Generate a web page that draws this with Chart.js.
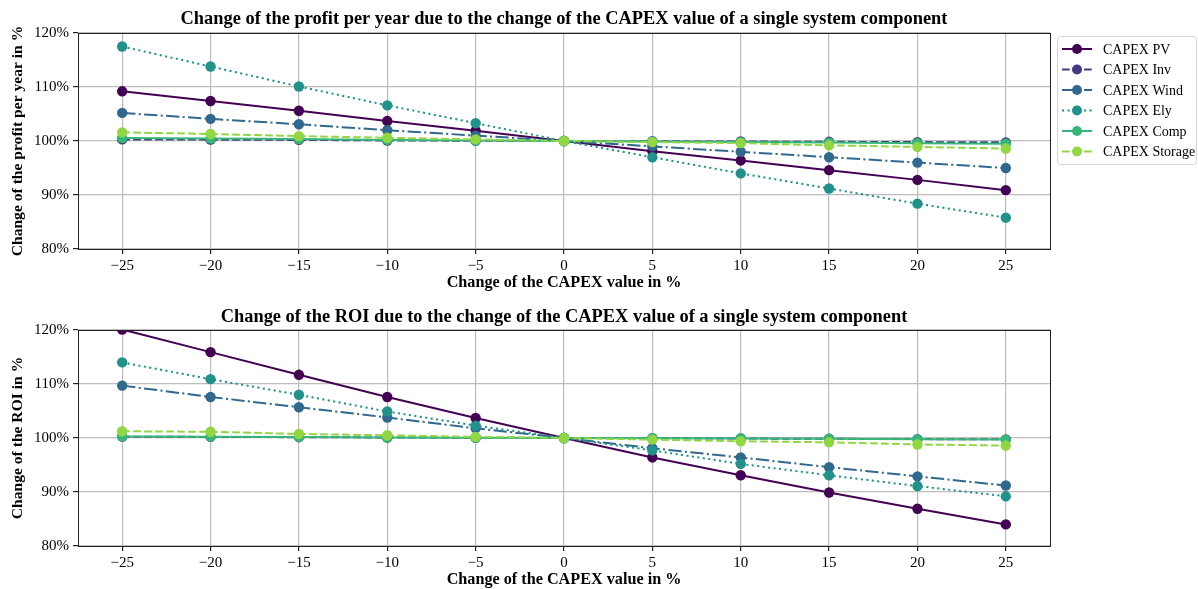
<!DOCTYPE html>
<html>
<head>
<meta charset="utf-8">
<title>CAPEX sensitivity</title>
<script src="https://cdn.jsdelivr.net/npm/chart.js@4.4.1/dist/chart.umd.min.js"></script>
<style>
  html, body { margin: 0; padding: 0; background: #fff; overflow: hidden; }
  .panel { position: absolute; left: 0; width: 1198px; height: 298px; }
</style>
</head>
<body>
<div class="panel" style="top:0"><canvas id="profitChart"></canvas></div>
<div class="panel" style="top:297px"><canvas id="roiChart"></canvas></div>
<script>
// CAPEX change steps (%) and axis ticks
const capexChange = [-25, -20, -15, -10, -5, 0, 5, 10, 15, 20, 25];
const xTicks = [-25, -20, -15, -10, -5, 0, 5, 10, 15, 20, 25];
const yTicks = [80, 90, 100, 110, 120];

const seriesNames = ['CAPEX PV', 'CAPEX Inv', 'CAPEX Wind', 'CAPEX Ely', 'CAPEX Comp', 'CAPEX Storage'];
const seriesColors = ['#440154', '#443a83', '#31688e', '#21918c', '#35b779', '#90d743'];
const seriesDash = [[], [7.7, 3.3], [13.3, 3.3, 2.1, 3.3], [2.1, 3.4], [], [7.7, 3.3]];

// profit per year, % of baseline
const profitPV      = [109.2, 107.4, 105.6, 103.7, 101.9, 100, 98.1, 96.4, 94.6, 92.8, 90.9];
const profitInv     = [100.3, 100.25, 100.2, 100.1, 100.05, 100, 99.95, 99.9, 99.85, 99.8, 99.75];
const profitWind    = [105.2, 104.1, 103.1, 102.0, 101.0, 100, 99.0, 98.0, 97.0, 96.0, 95.0];
const profitEly     = [117.5, 113.8, 110.1, 106.6, 103.3, 100, 97.0, 94.0, 91.2, 88.4, 85.8];
const profitComp    = [100.55, 100.45, 100.35, 100.2, 100.1, 100, 99.9, 99.8, 99.7, 99.6, 99.5];
const profitStorage = [101.6, 101.3, 100.9, 100.6, 100.3, 100, 99.8, 99.6, 99.2, 98.9, 98.6];

// ROI, % of baseline
const roiPV      = [120.1, 115.9, 111.7, 107.6, 103.7, 100, 96.4, 93.1, 89.9, 86.9, 84.0];
const roiInv     = [100.25, 100.2, 100.15, 100.1, 100.05, 100, 99.95, 99.9, 99.85, 99.8, 99.75];
const roiWind    = [109.7, 107.6, 105.7, 103.8, 101.8, 100, 98.1, 96.4, 94.6, 92.9, 91.2];
const roiEly     = [114.0, 110.9, 108.0, 104.9, 102.3, 100, 97.7, 95.2, 93.1, 91.1, 89.2];
const roiComp    = [100.3, 100.25, 100.2, 100.1, 100.05, 100, 99.95, 99.9, 99.85, 99.75, 99.7];
const roiStorage = [101.25, 101.15, 100.75, 100.5, 100.2, 100, 99.7, 99.4, 99.2, 98.8, 98.6];

const SERIF = "'Liberation Serif', 'Times New Roman', serif";

// box around the plot area (all four spines)
const frame = {
  id: 'frame',
  afterDraw(chart) {
    const { ctx, chartArea: a } = chart;
    ctx.save();
    ctx.strokeStyle = '#222';
    ctx.lineWidth = 1;
    ctx.strokeRect(Math.round(a.left) + 0.5, Math.round(a.top) + 0.5,
                   Math.round(a.right - a.left), Math.round(a.bottom - a.top));
    ctx.restore();
  }
};

// bold heading centred over the plot area
const heading = {
  id: 'heading',
  afterDraw(chart, args, opts) {
    const { ctx, chartArea: a } = chart;
    ctx.save();
    ctx.font = `bold ${opts.size}px ${SERIF}`;
    ctx.fillStyle = '#000';
    ctx.textAlign = 'center';
    ctx.textBaseline = 'middle';
    ctx.fillText(opts.text, (a.left + a.right) / 2, opts.y);
    ctx.restore();
  }
};

// legend box to the right of the plot
const sideLegend = {
  id: 'sideLegend',
  afterDraw(chart, args, opts) {
    if (!opts.show) return;
    const { ctx, chartArea: a } = chart;
    const x = a.right + 7, y = a.top + 3, w = 139, h = 128;
    ctx.save();
    ctx.beginPath();
    ctx.roundRect(x + 0.5, y + 0.5, w, h, 3);
    ctx.fillStyle = 'rgba(255,255,255,0.8)';
    ctx.fill();
    ctx.strokeStyle = '#d6d6d6';
    ctx.lineWidth = 1;
    ctx.stroke();
    ctx.font = `14px ${SERIF}`;
    ctx.textBaseline = 'middle';
    chart.data.datasets.forEach((ds, i) => {
      const cy = y + 13 + i * 20.5;
      ctx.strokeStyle = ds.borderColor;
      ctx.lineWidth = 2;
      ctx.setLineDash(ds.borderDash || []);
      ctx.beginPath();
      ctx.moveTo(x + 5, cy);
      ctx.lineTo(x + 35, cy);
      ctx.stroke();
      ctx.setLineDash([]);
      ctx.beginPath();
      ctx.arc(x + 20, cy, 5, 0, Math.PI * 2);
      ctx.fillStyle = ds.borderColor;
      ctx.fill();
      ctx.fillStyle = '#000';
      ctx.fillText(ds.label, x + 46, cy + 1);
    });
    ctx.restore();
  }
};

function makeDatasets(series) {
  return series.map((vals, i) => ({
    label: seriesNames[i],
    data: capexChange.map((c, k) => ({ x: c, y: vals[k] })),
    borderColor: seriesColors[i],
    backgroundColor: seriesColors[i],
    borderWidth: 2,
    borderDash: seriesDash[i],
    pointRadius: 5.2,
    pointBorderWidth: 0,
    pointHoverRadius: 5.2,
    tension: 0,
    clip: 0,
    order: series.length - i
  }));
}

function drawChart(canvasId, title, yTitle, series, withLegend, titleY) {
  new Chart(document.getElementById(canvasId), {
    type: 'line',
    data: { datasets: makeDatasets(series) },
    options: {
      responsive: true,
      maintainAspectRatio: false,
      animation: false,
      events: [],
      layout: { padding: { left: 0, right: 148, top: 33, bottom: 0 } },
      plugins: {
        legend: { display: false },
        tooltip: { enabled: false },
        heading: { text: title, y: titleY, size: 18.4 },
        sideLegend: { show: withLegend }
      },
      scales: {
        x: {
          type: 'linear',
          min: -27.5,
          max: 27.5,
          afterBuildTicks: s => { s.ticks = xTicks.map(v => ({ value: v })); },
          afterFit: s => { s.height = 49; },
          border: { display: false },
          grid: { color: '#bcbcbc', lineWidth: 1.2, tickLength: 5, tickColor: '#222' },
          ticks: {
            color: '#000',
            padding: 3,
            maxRotation: 0,
            font: { family: SERIF, size: 15 },
            callback: v => v < 0 ? '\u2212' + Math.abs(v) : String(v)
          },
          title: {
            display: true,
            text: 'Change of the CAPEX value in %',
            color: '#000',
            font: { family: SERIF, size: 16.2, weight: 'bold' },
            padding: { top: 0, bottom: 5 }
          }
        },
        y: {
          min: 80,
          max: 120,
          afterBuildTicks: s => { s.ticks = yTicks.map(v => ({ value: v })); },
          afterFit: s => { s.width = 78; },
          border: { display: false },
          grid: { color: '#bcbcbc', lineWidth: 1.2, tickLength: 5, tickColor: '#222' },
          ticks: {
            color: '#000',
            padding: 4,
            font: { family: SERIF, size: 15 },
            callback: v => v + '%'
          },
          title: {
            display: true,
            text: yTitle,
            color: '#000',
            font: { family: SERIF, size: 15.6, weight: 'bold' },
            padding: { top: 9, bottom: 0 }
          }
        }
      }
    },
    plugins: [frame, heading, sideLegend]
  });
}

drawChart('profitChart',
  'Change of the profit per year due to the change of the CAPEX value of a single system component',
  'Change of the profit per year in %',
  [profitPV, profitInv, profitWind, profitEly, profitComp, profitStorage], true, 19);

drawChart('roiChart',
  'Change of the ROI due to the change of the CAPEX value of a single system component',
  'Change of the ROI in %',
  [roiPV, roiInv, roiWind, roiEly, roiComp, roiStorage], false, 20);
</script>
</body>
</html>
